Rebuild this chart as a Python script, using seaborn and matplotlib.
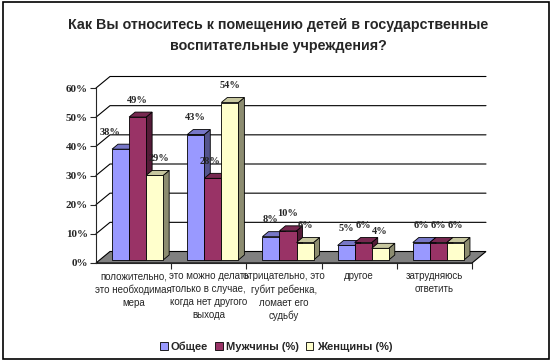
import numpy as np
import pandas as pd
import seaborn as sns
import matplotlib.pyplot as plt
import matplotlib.colors as mcolors
from matplotlib.patches import Polygon, Rectangle
from matplotlib.transforms import Affine2D, IdentityTransform

# data
categories = [
    "положительно,\nэто необходимая\nмера",
    "это можно делать\nтолько в случае,\nкогда нет другого\nвыхода",
    "отрицательно, это\nгубит ребенка,\nломает его\nсудьбу",
    "другое",
    "затрудняюсь\nответить",
]
series = ["Общее", "Мужчины (%)", "Женщины (%)"]
obshee = [38, 43, 8, 5, 6]
muzhchiny = [49, 28, 10, 6, 6]
zhenshchiny = [29, 54, 6, 4, 6]
colors = ["#9999FF", "#993366", "#FFFFCC"]
yticks = [0, 10, 20, 30, 40, 50, 60]
title = "Как Вы относитесь к помещению детей в государственные\nвоспитательные учреждения?"

sns.set_style("white")
plt.rcParams["font.family"] = ["Liberation Sans", "DejaVu Sans"]

df = pd.DataFrame({
    "cat": categories * 3,
    "series": np.repeat(series, len(categories)),
    "value": obshee + muzhchiny + zhenshchiny,
})

W, H = 554, 364
fig = plt.figure(figsize=(W / 100, H / 100), dpi=100)
ax = fig.add_axes([96 / W, (H - 263) / H, (472 - 96) / W, (263 - 88) / H])

sns.barplot(data=df, x="cat", y="value", hue="series", palette=colors,
            width=0.68, saturation=1, edgecolor="black", linewidth=0.6,
            errorbar=None, legend=False, ax=ax)
bars = sorted([p for p in ax.patches if isinstance(p, Rectangle)], key=lambda p: p.get_x())
ax.set_xlim(-0.5, 4.5)
ax.set_ylim(0, 60)
ax.set_xlabel("")
ax.set_ylabel("")

# fake 3D: wall depth, bar shift and bar depth in pixels
WALL = np.array([14, 11.5])
SHIFT = np.array([4, 3])
DEPTH = np.array([6, 5])
ident = IdentityTransform()
tr = ax.transData.transform

# floor and back wall
fl, fr = tr((-0.5, 0)), tr((4.5, 0))
ax.add_patch(Polygon([fl, fr, fr + WALL, fl + WALL], closed=True, transform=ident,
                     facecolor="#808080", edgecolor="black", lw=0.8, zorder=0.5, clip_on=False))
for v in yticks[1:]:
    a, b = tr((-0.5, v)), tr((4.5, v))
    ax.plot([a[0], a[0] + WALL[0], b[0] + WALL[0]], [a[1], a[1] + WALL[1], b[1] + WALL[1]],
            color="black", lw=0.8, transform=ident, zorder=0.4, clip_on=False)

# bars: sides and tops, ordered left to right
nser = len(series)
heights = [p.get_height() for p in bars]
for k, p in enumerate(bars):
    x0, w, h = p.get_x(), p.get_width(), p.get_height()
    fc = np.array(mcolors.to_rgb(p.get_facecolor()))
    p.set_transform(ax.transData + Affine2D().translate(*SHIFT))
    p.set_zorder(3 + k * 0.1 + 0.05)
    p.set_clip_on(False)
    X0, Y0 = tr((x0, 0)) + SHIFT
    X1, Y1 = tr((x0 + w, h)) + SHIFT
    top = [(X0, Y1), (X1, Y1), (X1 + DEPTH[0], Y1 + DEPTH[1]), (X0 + DEPTH[0], Y1 + DEPTH[1])]
    side = [(X1, Y0), (X1, Y1), (X1 + DEPTH[0], Y1 + DEPTH[1]), (X1 + DEPTH[0], Y0 + DEPTH[1])]
    for pts, f in [(side, 0.55), (top, 0.78)]:
        ax.add_patch(Polygon(pts, closed=True, transform=ident, facecolor=fc * f,
                             edgecolor="black", lw=0.6, zorder=3 + k * 0.1, clip_on=False))
    # nudge label away from taller neighbours, like Excel does
    j = k % nser
    left_tall = j > 0 and heights[k - 1] > h + 4
    right_tall = j < nser - 1 and heights[k + 1] > h + 4
    dx = 1 if (left_tall and right_tall) else -6 if right_tall else 8 if left_tall else 4
    t = ax.annotate(f"{h:.0f}%", xy=(x0 + w / 2, h), xytext=(dx, 20), textcoords="offset pixels",
                    ha="center", va="center", family="Liberation Serif", weight="bold",
                    fontsize=7.5, annotation_clip=False)
    t.set_zorder(20)

# axes
sns.despine(ax=ax)
for s in ["left", "bottom"]:
    ax.spines[s].set_linewidth(0.8)
    ax.spines[s].set_zorder(2)
ax.set_yticks(yticks)
ax.set_yticklabels([f"{v}%" for v in yticks], family="Liberation Serif", weight="bold", fontsize=8)
ax.tick_params(axis="y", length=4, width=0.8, pad=2, left=True)
ax.set_xticks(range(len(categories)))
ax.set_xticklabels(categories, fontsize=7, linespacing=1.35)
ax.set_xticks([i + 0.5 for i in range(len(categories))], minor=True)
ax.tick_params(axis="x", which="major", length=0, pad=6)
ax.tick_params(axis="x", which="minor", length=4, width=0.8, bottom=True)

# legend
handles = [Rectangle((0, 0), 1, 1, facecolor=c, edgecolor="black", lw=0.6) for c in colors]
fig.legend(handles, series, loc="center", bbox_to_anchor=(276 / W, (H - 347) / H), ncol=3,
           frameon=False, prop={"weight": "bold", "size": 8}, handlelength=0.7,
           handleheight=0.7, handletextpad=0.3, columnspacing=0.6)

fig.text(278 / W, (H - 35.5) / H, title, ha="center", va="center", fontsize=10.3,
         weight="bold", linespacing=1.55)

fig.add_artist(Rectangle((3 / W, 5 / H), 546 / W, 357 / H, transform=fig.transFigure,
                         fill=False, edgecolor="black", lw=1.2))

fig.savefig("out.png", dpi=100)
plt.close(fig)
